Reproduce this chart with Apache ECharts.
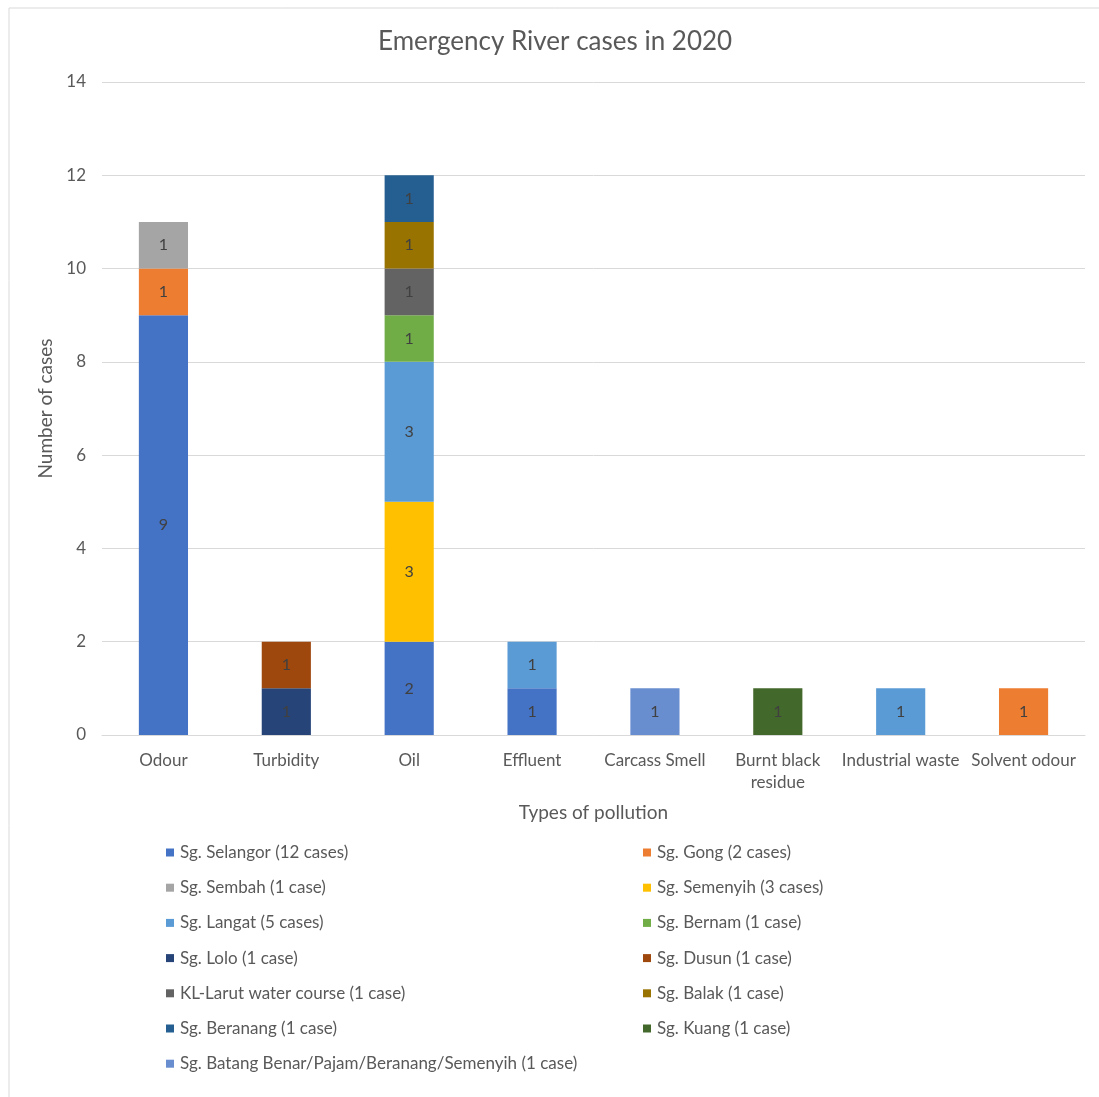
<!DOCTYPE html>
<html>
<head>
<meta charset="utf-8">
<script src="https://cdn.jsdelivr.net/npm/echarts@6/dist/echarts.min.js"></script>
<style>html,body{margin:0;padding:0;background:#fff}#c{width:1099px;height:1097px}</style>
</head>
<body>
<div id="c"></div>
<script>
const categories = ['Odour', 'Turbidity', 'Oil', 'Effluent', 'Carcass Smell', 'Burnt black\nresidue', 'Industrial waste', 'Solvent odour'];
const seriesNames = ['Sg. Selangor (12 cases)', 'Sg. Gong (2 cases)', 'Sg. Sembah (1 case)', 'Sg. Semenyih (3 cases)', 'Sg. Langat (5 cases)', 'Sg. Bernam (1 case)', 'Sg. Lolo (1 case)', 'Sg. Dusun (1 case)', 'KL-Larut water course (1 case)', 'Sg. Balak (1 case)', 'Sg. Beranang (1 case)', 'Sg. Kuang (1 case)', 'Sg. Batang Benar/Pajam/Beranang/Semenyih (1 case)'];
const selangor = [9, null, 2, 1, null, null, null, null];
const gong = [1, null, null, null, null, null, null, 1];
const sembah = [1, null, null, null, null, null, null, null];
const semenyih = [null, null, 3, null, null, null, null, null];
const langat = [null, null, 3, 1, null, null, 1, null];
const bernam = [null, null, 1, null, null, null, null, null];
const lolo = [null, 1, null, null, null, null, null, null];
const dusun = [null, 1, null, null, null, null, null, null];
const klLarut = [null, null, 1, null, null, null, null, null];
const balak = [null, null, 1, null, null, null, null, null];
const beranang = [null, null, 1, null, null, null, null, null];
const kuang = [null, null, null, null, null, 1, null, null];
const batang = [null, null, null, null, 1, null, null, null];
const seriesValues = [selangor, gong, sembah, semenyih, langat, bernam, lolo, dusun, klLarut, balak, beranang, kuang, batang];
const colors = ['#4472C4', '#ED7D31', '#A5A5A5', '#FFC000', '#5B9BD5', '#70AD47', '#264478', '#9E480E', '#636363', '#997300', '#255E91', '#43682B', '#698ED0'];
const leftLegend = [0, 2, 4, 6, 8, 10, 12].map(i => seriesNames[i]);
const rightLegend = [1, 3, 5, 7, 9, 11].map(i => seriesNames[i]);

const FONT = 'Lato';
const chart = echarts.init(document.getElementById('c'), null, {renderer: 'canvas'});
const legendCommon = {
  orient: 'vertical', top: 839, itemWidth: 8, itemHeight: 8, itemGap: 18.2,
  icon: 'rect', textStyle: {fontFamily: FONT, fontSize: 17, color: '#595959', padding: [0, 0, 0, 1], lineHeight: 17}
};
chart.setOption({
  animation: false,
  color: colors,
  textStyle: {fontFamily: FONT},
  graphic: [{type: 'rect', shape: {x: 9, y: 8, width: 1200, height: 1200}, style: {fill: 'none', stroke: '#d9d9d9', lineWidth: 1}, silent: true}],
  title: {text: 'Emergency River cases in 2020', left: 373, top: 24, textStyle: {fontFamily: FONT, fontSize: 26, fontWeight: 'normal', color: '#595959'}},
  legend: [
    Object.assign({}, legendCommon, {left: 161, data: leftLegend}),
    Object.assign({}, legendCommon, {left: 638, data: rightLegend})
  ],
  grid: {left: 102, right: 14, top: 82, bottom: 362, containLabel: false},
  xAxis: {
    type: 'category', data: categories,
    name: 'Types of pollution', nameLocation: 'middle', nameGap: 68,
    nameTextStyle: {fontFamily: FONT, fontSize: 19, color: '#595959'},
    axisLine: {lineStyle: {color: '#d9d9d9'}}, axisTick: {show: false},
    axisLabel: {fontFamily: FONT, fontSize: 17, color: '#595959', margin: 15, interval: 0, lineHeight: 22}
  },
  yAxis: {
    type: 'value', min: 0, max: 14, interval: 2,
    name: 'Number of cases', nameLocation: 'middle', nameGap: 44,
    nameTextStyle: {fontFamily: FONT, fontSize: 19, color: '#595959'},
    axisLine: {show: false}, axisTick: {show: false},
    splitLine: {lineStyle: {color: '#d9d9d9', width: 1}},
    axisLabel: {fontFamily: FONT, fontSize: 17, color: '#595959', margin: 16}
  },
  series: seriesNames.map((n, i) => ({
    name: n, type: 'bar', stack: 'total', barWidth: '40%', data: seriesValues[i],
    itemStyle: {color: colors[i]},
    label: {show: true, position: 'inside', fontFamily: FONT, fontSize: 16, color: '#404040'}
  }))
});
</script>
</body>
</html>
